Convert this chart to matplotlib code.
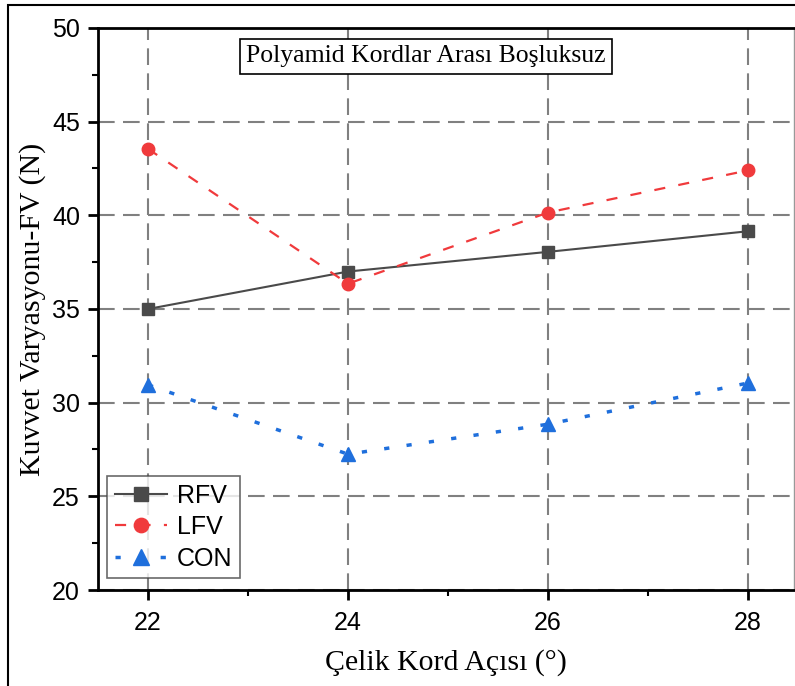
import matplotlib.pyplot as plt
from matplotlib.patches import Rectangle

angle = [22, 24, 26, 28]
rfv = [35.0, 37.0, 38.05, 39.15]
lfv = [43.55, 36.35, 40.15, 42.4]
con = [30.95, 27.25, 28.85, 31.05]

fig = plt.figure(figsize=(7.95, 6.86), dpi=100)
ax = fig.add_axes([98 / 795, 1 - 590 / 686, (794 - 98) / 795, (590 - 28) / 686])

# outer frame of the original figure (cut at right/bottom)
fig.patches.append(Rectangle((8 / 795, -0.01), 1.0, 1 - 5 / 686 + 0.01,
                             transform=fig.transFigure, fill=False,
                             edgecolor="black", linewidth=1.5))

ax.plot(angle, rfv, color="#4a4a4a", linestyle="-", linewidth=1.5,
        marker="s", markersize=9, label="RFV")
ax.plot(angle, lfv, color="#f03a3c", linestyle=(0, (5, 6)), linewidth=1.6,
        marker="o", markersize=9, label="LFV")
ax.plot(angle, con, color="#1f6fdc", linestyle=(0, (1.5, 5)), linewidth=2.5,
        marker="^", markersize=10, label="CON")

ax.set_xlim(21.5, 28.46)
ax.set_ylim(20, 50)
ax.set_xticks(angle)
ax.set_xticks([23, 25, 27], minor=True)
ax.set_yticks([20, 25, 30, 35, 40, 45, 50])
ax.set_yticks([22.5, 27.5, 32.5, 37.5, 42.5, 47.5], minor=True)

ax.grid(True, which="major", color="#808080", linestyle=(0, (8, 4)), linewidth=1.5)
ax.set_axisbelow(True)

for s in ["left", "bottom", "top"]:
    ax.spines[s].set_linewidth(2)
ax.spines["right"].set_linewidth(1)
ax.spines["right"].set_color("#999999")

ax.tick_params(which="major", direction="out", length=7, width=2,
               labelsize=18, top=False, right=False)
ax.tick_params(which="minor", direction="out", length=4, width=1.5,
               top=False, right=False)
for lab in ax.get_xticklabels() + ax.get_yticklabels():
    lab.set_fontfamily("Liberation Sans")
ax.tick_params(axis="x", pad=8)
ax.tick_params(axis="y", pad=6)

ax.set_xlabel("Çelik Kord Açısı (°)", fontfamily="Liberation Serif",
              fontsize=21.5, labelpad=10)
ax.set_ylabel("Kuvvet Varyasyonu-FV (N)", fontfamily="Liberation Serif",
              fontsize=21.5, labelpad=4)

ax.text(24.78, 48.48, "Polyamid Kordlar Arası Boşluksuz",
        fontfamily="Liberation Serif", fontsize=18.5, ha="center", va="center",
        bbox=dict(boxstyle="square,pad=0.25", facecolor="white",
                  edgecolor="black", linewidth=1.2))

leg = ax.legend(loc="lower left", bbox_to_anchor=(0.013, 0.021),
                prop={"family": "Liberation Sans", "size": 18},
                frameon=True, fancybox=False, edgecolor="#444444",
                handlelength=2.1, handletextpad=0.4, borderpad=0.3,
                labelspacing=0.3, borderaxespad=0, markerscale=1.15)
leg.get_frame().set_linewidth(1.2)

fig.savefig("out.png", dpi=100)
